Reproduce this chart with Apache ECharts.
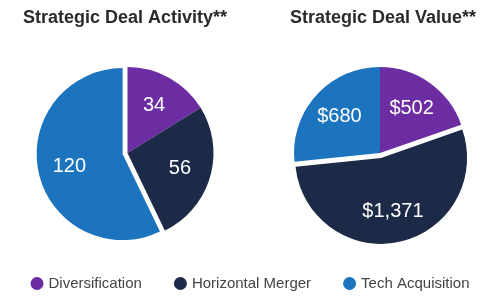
<!DOCTYPE html>
<html>
<head>
<meta charset="utf-8">
<script src="https://cdn.jsdelivr.net/npm/echarts@6/dist/echarts.min.js"></script>
<style>
html,body{margin:0;padding:0;background:#fff;}
#c{width:500px;height:300px;}
</style>
</head>
<body>
<div id="c"></div>
<script>
const categories = ['Diversification', 'Horizontal Merger', 'Tech Acquisition'];
const activityValues = [34, 56, 120];
const valueValues = [502, 1371, 680];
const colors = ['#6c2ca2', '#1c2a48', '#1b74bd'];
const titles = ['Strategic Deal Activity**', 'Strategic Deal Value**'];
const selectedActivity = 'Tech Acquisition';
const selectedValue = 'Horizontal Merger';

const FONT = "'Liberation Sans', Arial, Helvetica, sans-serif";

function makeData(vals, sel) {
  return categories.map((c, i) => ({
    name: c, value: vals[i], selected: c === sel,
    itemStyle: { color: colors[i] }
  }));
}
function makeOverlayData(vals, sel) {
  return categories.map((c, i) => ({
    name: c, value: vals[i], selected: c === sel,
    itemStyle: { color: 'rgba(0,0,0,0)' }
  }));
}
const fmtCount = p => String(p.value);
const fmtMoney = p => '$' + Number(p.value).toLocaleString('en-US');

const centers = [['25.5%', '51%'], ['76%', '51%']];
const R = 86;

const chart = echarts.init(document.getElementById('c'), null, { renderer: 'canvas' });
chart.setOption({
  animation: false,
  color: colors,
  title: [
    { text: titles[0], left: '24%', top: 4, textAlign: 'center',
      textStyle: { fontSize: 18, fontWeight: 'bold', color: '#2a2a2a', fontFamily: FONT } },
    { text: titles[1], left: '75.6%', top: 4, textAlign: 'center',
      textStyle: { fontSize: 18, fontWeight: 'bold', color: '#2a2a2a', fontFamily: FONT } }
  ],
  legend: {
    bottom: 4, left: 'center', icon: 'circle', itemWidth: 13, itemHeight: 13, itemGap: 32,
    textStyle: { fontSize: 15, color: '#444', fontFamily: FONT },
    data: categories
  },
  series: [
    { type: 'pie', center: centers[0], radius: R, startAngle: 90, clockwise: true,
      selectedMode: 'single', selectedOffset: 5, silent: true,
      label: { show: false }, labelLine: { show: false },
      emphasis: { disabled: true },
      data: makeData(activityValues, selectedActivity) },
    { type: 'pie', center: centers[1], radius: R, startAngle: 90, clockwise: true,
      selectedMode: 'single', selectedOffset: 5, silent: true,
      label: { show: false }, labelLine: { show: false },
      emphasis: { disabled: true },
      data: makeData(valueValues, selectedValue) },
    { type: 'pie', center: centers[0], radius: [R * 0.2, R], startAngle: 90, clockwise: true,
      selectedMode: 'single', selectedOffset: 5, silent: true, z: 5,
      label: { show: true, position: 'inside', formatter: fmtCount,
        color: '#fff', fontSize: 20, fontFamily: FONT },
      labelLine: { show: false }, emphasis: { disabled: true },
      data: makeOverlayData(activityValues, selectedActivity) },
    { type: 'pie', center: centers[1], radius: [R * 0.2, R], startAngle: 90, clockwise: true,
      selectedMode: 'single', selectedOffset: 5, silent: true, z: 5,
      label: { show: true, position: 'inside', formatter: fmtMoney,
        color: '#fff', fontSize: 20, fontFamily: FONT },
      labelLine: { show: false }, emphasis: { disabled: true },
      data: makeOverlayData(valueValues, selectedValue) }
  ]
});
</script>
</body>
</html>
